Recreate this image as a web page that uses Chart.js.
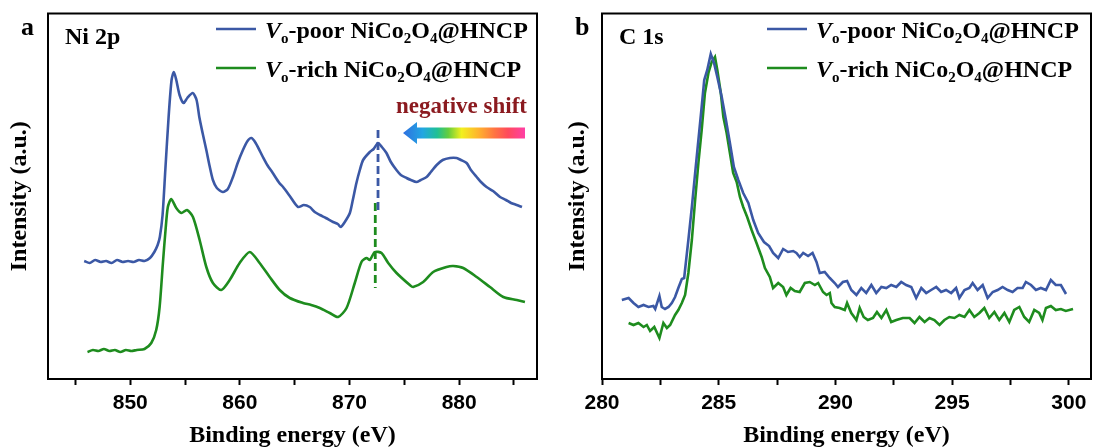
<html>
<head>
<title>Ni 2p and C 1s XPS</title>
<style>
  body { margin: 0; background: #fff; }
  #wrap { display: flex; width: 1094px; height: 448px; }
  canvas { display: block; }
</style>
</head>
<body>
<div id="wrap">
  <canvas id="niChart" width="547" height="448"></canvas>
  <canvas id="cChart" width="547" height="448"></canvas>
</div>

<script src="https://cdn.jsdelivr.net/npm/chart.js"></script>
<script>
// ---- values (intensity in arbitrary units) ----

// panel a, Ni 2p
const niPoorE = [845.8, 846.3, 846.8, 847.3, 847.8, 848.3, 848.8, 849.3, 849.8, 850.3, 850.8, 851.3, 851.8,
  852.2, 852.5, 852.7, 852.95, 853.2, 853.5, 853.77, 853.98, 854.2, 854.5,
  854.87, 855.2, 855.7, 856.05, 856.3, 856.6, 856.94, 857.24, 857.54, 857.9,
  858.45, 858.9, 859.37, 859.8, 860.28, 860.7, 861.05, 861.44, 862.1, 862.5,
  863.0, 863.6, 863.94, 864.55, 865.3, 865.83, 866.37, 866.83, 867.3, 867.84,
  868.5, 868.93, 869.2, 869.57, 870.03, 870.3, 870.63, 870.94, 871.24, 871.85,
  872.2, 872.6, 872.95, 873.37, 873.77, 874.28, 874.68, 875.2, 875.6, 876.1,
  876.5, 877.03, 877.42, 877.95, 878.5, 879.16, 879.77, 880.16, 880.68, 881.07,
  881.6, 881.99, 882.5, 883.09, 883.73, 884.27, 884.73, 885.25, 885.73];
const niPoor = [118, 116, 119, 117, 118, 116, 119, 117, 118, 117, 119, 118, 121,
  127, 134, 142, 164, 209, 262, 299, 307, 299, 284,
  276, 281, 286, 279, 262, 246, 229, 213, 199, 191,
  187, 190, 202, 216, 229, 238, 241, 236, 222, 214,
  206, 196, 192, 183, 172, 174, 172, 167, 164, 161,
  157, 155, 152, 157, 166, 179, 196, 209, 219, 227,
  230, 236, 232, 226, 217, 209, 204, 201, 199, 197,
  199, 202, 207, 214, 219, 221, 221, 219, 216, 209,
  202, 197, 192, 188, 182, 179, 176, 174, 172];

const niRichE = [846.1, 846.6, 847.1, 847.6, 848.1, 848.6, 849.1, 849.6, 850.1, 850.6,
  851.3, 851.92, 852.37, 852.68, 852.98, 853.22, 853.43, 853.74, 854.2, 854.66,
  855.17, 855.72, 856.33, 856.94, 857.54, 858.3, 859.07, 859.98, 860.9, 861.8,
  862.72, 863.63, 864.55, 865.76, 866.5, 867.29, 868.2, 868.96, 869.73, 870.48,
  871.09, 871.55, 871.85, 872.31, 872.92, 873.53, 874.29, 875.5, 875.8, 876.72,
  877.63, 878.85, 879.46, 880.37, 881.6, 882.81, 884.03, 885.25, 886.0];
const niRich = [27, 29, 28, 30, 28, 29, 27, 29, 28, 29,
  30, 36, 49, 72, 116, 149, 172, 180, 171, 166,
  169, 162, 139, 112, 96, 89, 99, 116, 127, 116,
  102, 89, 81, 76, 74, 71, 66, 62, 71, 96,
  117, 121, 119, 127, 126, 116, 106, 94, 92, 97,
  107, 112, 113, 111, 102, 92, 82, 79, 77];

// dashed markers at the 2p1/2 peaks
const shiftPoorE = [872.6, 872.6];
const shiftPoorY = [249, 166];
const shiftRichE = [872.35, 872.35];
const shiftRichY = [176, 91];

// panel b, C 1s
const cPoorE = [280.85, 281.14, 281.35, 281.56, 281.78, 281.99, 282.2, 282.28, 282.46, 282.56,
  282.7, 282.85, 282.99, 283.13, 283.27, 283.42, 283.52, 283.7, 283.85, 283.99,
  284.13, 284.27, 284.38, 284.51, 284.66, 284.8, 284.94, 285.13, 285.31, 285.48,
  285.65, 285.84, 286.05, 286.27, 286.48, 286.69, 286.94, 287.16, 287.33, 287.55,
  287.76, 287.97, 288.19, 288.33, 288.47, 288.62, 288.83, 289.02, 289.19, 289.33,
  289.54, 289.76, 289.97, 290.11, 290.32, 290.5, 290.68, 290.9, 291.11, 291.32,
  291.54, 291.75, 291.97, 292.18, 292.39, 292.61, 292.82, 293.03, 293.25, 293.46,
  293.68, 293.89, 294.1, 294.32, 294.53, 294.74, 294.96, 295.17, 295.31, 295.53,
  295.74, 295.88, 296.09, 296.31, 296.52, 296.74, 296.95, 297.16, 297.38, 297.59,
  297.8, 298.02, 298.16, 298.38, 298.59, 298.8, 299.02, 299.23, 299.44, 299.66, 299.88];
const cPoor = [79, 81, 76, 72, 74, 72, 73, 70, 83, 72,
  70, 72, 76, 82, 91, 100, 101, 139, 172, 206,
  239, 272, 299, 309, 325, 316, 302, 282, 259, 236,
  212, 199, 186, 176, 159, 146, 137, 133, 126, 121,
  130, 127, 128, 126, 122, 126, 123, 126, 117, 106,
  107, 101, 96, 92, 97, 98, 89, 84, 91, 86,
  94, 86, 92, 91, 94, 92, 97, 94, 92, 81,
  91, 86, 89, 92, 87, 89, 86, 91, 81, 89,
  91, 96, 89, 94, 81, 87, 89, 92, 89, 87,
  91, 91, 97, 94, 89, 91, 89, 99, 94, 94, 85];

const cRichE = [281.14, 281.35, 281.56, 281.78, 281.92, 282.06, 282.24, 282.46, 282.63, 282.78,
  282.92, 283.13, 283.27, 283.42, 283.56, 283.7, 283.85, 283.99, 284.13, 284.27,
  284.41, 284.56, 284.7, 284.84, 284.94, 285.09, 285.2, 285.34, 285.48, 285.62,
  285.77, 285.91, 286.05, 286.22, 286.41, 286.62, 286.84, 286.98, 287.19, 287.33,
  287.55, 287.76, 287.9, 288.08, 288.26, 288.47, 288.69, 288.9, 289.12, 289.26,
  289.47, 289.62, 289.76, 289.83, 289.97, 290.18, 290.4, 290.5, 290.68, 290.9,
  291.04, 291.21, 291.39, 291.61, 291.78, 291.97, 292.18, 292.39, 292.61, 292.89,
  293.18, 293.39, 293.6, 293.82, 294.03, 294.24, 294.46, 294.67, 294.88, 295.1,
  295.31, 295.53, 295.74, 295.95, 296.17, 296.38, 296.59, 296.81, 297.02, 297.24,
  297.45, 297.66, 297.88, 298.09, 298.3, 298.52, 298.73, 298.87, 299.02, 299.23,
  299.44, 299.66, 299.87, 300.18];
const cRich = [56, 54, 56, 52, 54, 48, 52, 41, 56, 51,
  54, 64, 69, 76, 84, 106, 139, 179, 216, 249,
  286, 306, 317, 322, 309, 286, 262, 246, 226, 206,
  197, 182, 172, 162, 149, 136, 122, 111, 102, 91,
  96, 92, 84, 91, 88, 87, 96, 97, 94, 96,
  87, 84, 86, 76, 72, 71, 69, 76, 66, 59,
  71, 62, 59, 61, 67, 61, 69, 57, 59, 61,
  61, 56, 62, 57, 61, 59, 54, 59, 62, 61,
  64, 62, 69, 62, 66, 71, 61, 67, 59, 66,
  57, 69, 72, 62, 57, 69, 66, 59, 71, 73,
  69, 70, 68, 70];

// axis ticks
const niTicks = [845, 850, 855, 860, 865, 870, 875, 880, 885];
const niLabels = [850, 860, 870, 880];
const cTicks = [280, 282.5, 285, 287.5, 290, 292.5, 295, 297.5, 300];
const cLabels = [280, 285, 290, 295, 300];

// legend text pieces: [text, style]
const poorLabel = [['V', 'bi'], ['o', 'sub'], ['-poor NiCo', 'b'], ['2', 'sub'], ['O', 'b'], ['4', 'sub'], ['@HNCP', 'b']];
const richLabel = [['V', 'bi'], ['o', 'sub'], ['-rich NiCo', 'b'], ['2', 'sub'], ['O', 'b'], ['4', 'sub'], ['@HNCP', 'b']];

const BLUE = '#3b58a5';
const GREEN = '#1e8c1e';
const SERIF = '"Liberation Serif", "Times New Roman", serif';
const SANS = '"Liberation Sans", Arial, sans-serif';

function pts(xs, ys) {
    return xs.map((x, i) => ({x: x, y: ys[i]}));
}

function richText(ctx, x, y, parts) {
    let cx = x;
    ctx.textBaseline = 'alphabetic';
    ctx.textAlign = 'left';
    for (const [txt, style] of parts) {
        let sub = style === 'sub';
        ctx.font = (style === 'bi' ? 'italic bold ' : 'bold ') + (sub ? '15px ' : '24px ') + SERIF;
        ctx.fillText(txt, cx, sub ? y + 5 : y);
        cx += ctx.measureText(txt).width;
    }
}

// draws the frame, panel letter, region name and legend
function panelDecor(letter, region, legendX) {
    return {
        id: 'decor',
        afterDraw(chart) {
            const ctx = chart.ctx;
            const a = chart.chartArea;
            ctx.save();
            ctx.strokeStyle = '#000';
            ctx.lineWidth = 2;
            ctx.strokeRect(a.left, a.top, a.right - a.left, a.bottom - a.top);

            ctx.fillStyle = '#000';
            ctx.font = 'bold 26px ' + SERIF;
            ctx.fillText(letter, a.left - 27, 35);
            ctx.font = 'bold 24px ' + SERIF;
            ctx.fillText(region, a.left + 17, 44);

            const rows = [[BLUE, poorLabel, 38], [GREEN, richLabel, 77]];
            for (const [col, label, base] of rows) {
                ctx.strokeStyle = col;
                ctx.lineWidth = 2.6;
                ctx.beginPath();
                ctx.moveTo(legendX, base - 9);
                ctx.lineTo(legendX + 40, base - 9);
                ctx.stroke();
                ctx.fillStyle = '#000';
                richText(ctx, legendX + 49, base, label);
            }
            ctx.restore();
        }
    };
}

// gradient arrow and "negative shift" note in panel a
const shiftNote = {
    id: 'shiftNote',
    afterDraw(chart) {
        const ctx = chart.ctx;
        ctx.save();
        ctx.font = 'bold 23px ' + SERIF;
        ctx.fillStyle = '#8b1a1f';
        ctx.textAlign = 'right';
        ctx.fillText('negative shift', 527, 113);

        const g = ctx.createLinearGradient(403, 0, 525, 0);
        g.addColorStop(0, '#2f6fe0');
        g.addColorStop(0.16, '#22a6e2');
        g.addColorStop(0.28, '#1fc095');
        g.addColorStop(0.37, '#63cd3e');
        g.addColorStop(0.48, '#f2f01e');
        g.addColorStop(0.62, '#ffb22e');
        g.addColorStop(0.75, '#ff7442');
        g.addColorStop(0.86, '#ff4a5c');
        g.addColorStop(1, '#ff3fa6');
        ctx.fillStyle = g;
        ctx.beginPath();
        ctx.moveTo(403, 133);
        ctx.lineTo(417, 122);
        ctx.lineTo(417, 127.5);
        ctx.lineTo(525, 127.5);
        ctx.lineTo(525, 138.5);
        ctx.lineTo(417, 138.5);
        ctx.lineTo(417, 144);
        ctx.closePath();
        ctx.fill();
        ctx.restore();
    }
};

function axisOptions(opts) {
    return {
        x: {
            type: 'linear',
            min: opts.min,
            max: opts.max,
            afterBuildTicks: s => { s.ticks = opts.ticks.map(v => ({value: v})); },
            afterFit: s => { s.height = 69; },
            ticks: {
                autoSkip: false,
                maxRotation: 0,
                padding: 6,
                color: '#000',
                font: {family: SANS, weight: 'bold', size: 21},
                callback: v => opts.labels.includes(v) ? String(v) : ''
            },
            grid: {drawOnChartArea: false, tickLength: 6, tickWidth: 2, tickColor: '#000'},
            border: {color: '#000', width: 2},
            title: {
                display: true,
                text: 'Binding energy (eV)',
                color: '#000',
                font: {family: SERIF, weight: 'bold', size: 24},
                padding: {top: 0, bottom: -2}
            }
        },
        y: {
            min: 0,
            max: 365.5,
            afterFit: s => { s.width = opts.yWidth; },
            ticks: {display: false},
            grid: {display: false},
            border: {display: false},
            title: {
                display: true,
                text: 'Intensity (a.u.)',
                color: '#000',
                font: {family: SERIF, weight: 'bold', size: 24},
                padding: {top: opts.yTitlePad, bottom: 0}
            }
        }
    };
}

function lineSet(data, color, extra) {
    return Object.assign({
        data: data,
        borderColor: color,
        borderWidth: 2.6,
        pointRadius: 0,
        fill: false
    }, extra || {});
}

const common = {
    responsive: false,
    animation: false,
    devicePixelRatio: 1,
    events: [],
    plugins: {legend: {display: false}, tooltip: {enabled: false}}
};

new Chart(document.getElementById('niChart'), {
    type: 'line',
    data: {
        datasets: [
            lineSet(pts(niPoorE, niPoor), BLUE, {tension: 0.25}),
            lineSet(pts(niRichE, niRich), GREEN, {tension: 0.25}),
            lineSet(pts(shiftPoorE, shiftPoorY), BLUE, {borderWidth: 2.8, borderDash: [8, 4]}),
            lineSet(pts(shiftRichE, shiftRichY), GREEN, {borderWidth: 2.8, borderDash: [8, 4]})
        ]
    },
    options: Object.assign({}, common, {
        layout: {padding: {top: 13.5, right: 10, bottom: 0, left: 0}},
        scales: axisOptions({min: 842.5, max: 887.1, ticks: niTicks, labels: niLabels, yWidth: 48, yTitlePad: 5})
    }),
    plugins: [panelDecor('a', 'Ni 2p', 216), shiftNote]
});

new Chart(document.getElementById('cChart'), {
    type: 'line',
    data: {
        datasets: [
            lineSet(pts(cPoorE, cPoor), BLUE),
            lineSet(pts(cRichE, cRich), GREEN)
        ]
    },
    options: Object.assign({}, common, {
        layout: {padding: {top: 13.5, right: 3, bottom: 0, left: 0}},
        scales: axisOptions({min: 280, max: 300.95, ticks: cTicks, labels: cLabels, yWidth: 55, yTitlePad: 16})
    }),
    plugins: [panelDecor('b', 'C 1s', 220)]
});
</script>
</body>
</html>
